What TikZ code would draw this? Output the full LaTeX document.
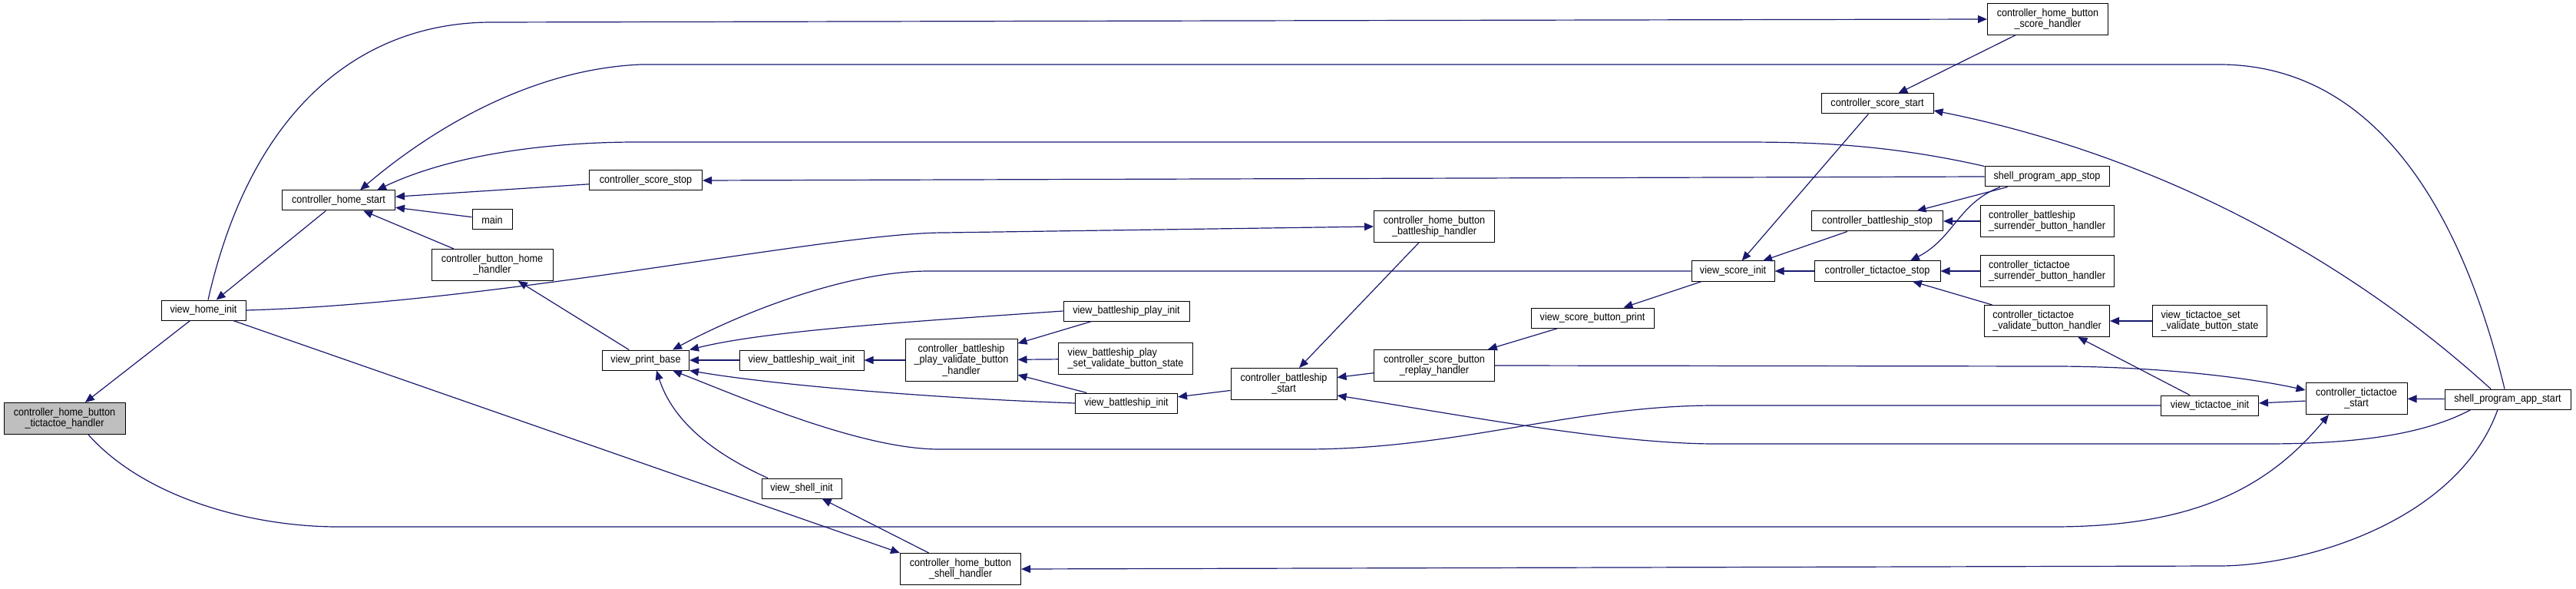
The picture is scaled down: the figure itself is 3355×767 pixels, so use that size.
\documentclass[tikz,border=0pt]{standalone}
\usepackage{fontspec}
\newfontfamily\dxfont[FakeStretch=0.9]{Liberation Sans}
\usetikzlibrary{arrows.meta}
\definecolor{edgeblue}{HTML}{191970}
\definecolor{rootgray}{HTML}{BFBFBF}
\tikzset{
  fn/.style={draw=black, line width=1pt, fill=white, font=\dxfont\fontsize{14}{14.5}\selectfont,
    inner xsep=4pt, inner ysep=5pt, minimum height=26pt, align=center},
  fn2/.style={fn, minimum height=41pt},
  fn3/.style={fn, minimum height=55pt},
  call/.style={draw=edgeblue, line width=1.2pt, -{Triangle[length=12pt,width=10pt]}}
}
\begin{document}
\begin{tikzpicture}[x=1pt, y=-1pt]
  \useasboundingbox (0,0) rectangle (3355,767);
  \node[fn2, fill=rootgray, minimum width=158] (ttth) at (84,545) {controller\_home\_button\\\_tictactoe\_handler};
  \node[fn, minimum width=110] (vhome) at (265,404) {view\_home\_init};
  \node[fn, minimum width=147] (chome) at (441,261) {controller\_home\_start};
  \node[fn2, minimum width=158] (cbhome) at (641,345) {controller\_button\_home\\\_handler};
  \node[fn, minimum width=52] (mainf) at (641,286) {main};
  \node[fn, minimum width=147] (csstop) at (841,235) {controller\_score\_stop};
  \node[fn, minimum width=113] (vpb) at (841,469) {view\_print\_base};
  \node[fn, minimum width=162] (vbwait) at (1044,469) {view\_battleship\_wait\_init};
  \node[fn3, minimum width=146] (cbpv) at (1252,469) {controller\_battleship\\\_play\_validate\_button\\\_handler};
  \node[fn, minimum width=164] (vbplay) at (1467,405) {view\_battleship\_play\_init};
  \node[fn2, minimum width=175, align=left] (vbpset) at (1466,467) {view\_battleship\_play\\\_set\_validate\_button\_state};
  \node[fn, minimum width=133] (vbinit) at (1467,525) {view\_battleship\_init};
  \node[fn, minimum width=104] (vshell) at (1044,636) {view\_shell\_init};
  \node[fn2, minimum width=157] (hbshell) at (1251,741) {controller\_home\_button\\\_shell\_handler};
  \node[fn2, minimum width=157] (hbbship) at (1868,295) {controller\_home\_button\\\_battleship\_handler};
  \node[fn2, minimum width=138] (cbstart) at (1672,500) {controller\_battleship\\\_start};
  \node[fn2, minimum width=157] (csreplay) at (1868,476) {controller\_score\_button\\\_replay\_handler};
  \node[fn, minimum width=160] (vsbprint) at (2074,414) {view\_score\_button\_print};
  \node[fn, minimum width=108] (vsinit) at (2257,353) {view\_score\_init};
  \node[fn, minimum width=146] (csstart) at (2445,135) {controller\_score\_start};
  \node[fn2, minimum width=157] (hbscore) at (2667,25) {controller\_home\_button\\\_score\_handler};
  \node[fn, minimum width=162] (spstop) at (2666,230) {shell\_program\_app\_stop};
  \node[fn, minimum width=171] (cbstop) at (2445,288) {controller\_battleship\_stop};
  \node[fn2, minimum width=174, align=left] (cbsurr) at (2666,288) {controller\_battleship\\\_surrender\_button\_handler};
  \node[fn, minimum width=164] (ctstop) at (2445,353) {controller\_tictactoe\_stop};
  \node[fn2, minimum width=174, align=left] (ctsurr) at (2666,353) {controller\_tictactoe\\\_surrender\_button\_handler};
  \node[fn2, minimum width=163, align=left] (ctvbh) at (2666,418) {controller\_tictactoe\\\_validate\_button\_handler};
  \node[fn2, minimum width=149, align=left] (vtset) at (2878,418) {view\_tictactoe\_set\\\_validate\_button\_state};
  \node[fn, minimum width=127] (vtinit) at (2878,528) {view\_tictactoe\_init};
  \node[fn2, minimum width=132] (ctstart) at (3069,519) {controller\_tictactoe\\\_start};
  \node[fn, minimum width=164] (spstart) at (3266,520) {shell\_program\_app\_start};
  \draw[call] (vhome) -- (ttth);
  \draw[call] (chome) -- (vhome);
  \draw[call] ([xshift=6pt]vhome.north) .. controls (330,130) and (480,29) .. (640,29) -- (hbscore.west);
  \draw[call] ([xshift=-4pt]spstart.north) .. controls (3200,250) and (3080,84) .. (2890,84) -- (835,84)
        .. controls (690,90) and (560,170) .. ([xshift=28pt]chome.north);
  \draw[call] (spstop.north west) .. controls (2450,186) and (2350,185) .. (2260,185) -- (830,185)
        .. controls (700,185) and (580,205) .. ([xshift=50pt]chome.north);
  \draw[call] (csstop) -- (chome);
  \draw[call] (spstop.west) -- (csstop.east);
  \draw[call] (mainf) -- (chome);
  \draw[call] (cbhome) -- (chome);
  \draw[call] (vpb) -- (cbhome);
  \draw[call] (vhome.east) .. controls (650,395) and (1080,303) .. (1230,303) -- (hbbship.west);
  \draw[call] (hbbship) -- (cbstart);
  \draw[call] (vhome) -- (hbshell.north west);
  \draw[call] ([xshift=31pt]ttth.south) .. controls (190,650) and (330,686) .. (440,686) -- (2674,686)
        .. controls (2850,686) and (2950,640) .. ([xshift=-36pt]ctstart.south);
  \draw[call] ([xshift=-44pt]vshell.north) .. controls (950,600) and (880,560) .. ([xshift=14pt]vpb.south);
  \draw[call] (hbshell) -- (vshell);
  \draw[call] ([xshift=-13pt]spstart.south) .. controls (3200,680) and (3000,737) .. (2890,737) -- (hbshell.east);
  \draw[call] ([xshift=-48pt]spstart.south) .. controls (3150,570) and (3050,578) .. (2950,578) -- (2234,578)
        .. controls (2100,578) and (1900,540) .. ([yshift=-15pt]cbstart.east);
  \draw[call] (vsinit.west) -- (1210,353) .. controls (1100,353) and (960,410) .. ([xshift=35pt]vpb.north);
  \draw[call] (vbplay.west) .. controls (1200,418) and (1000,430) .. (vpb.north east);
  \draw[call] (vbwait) -- (vpb);
  \draw[call] (vbinit.west) .. controls (1200,518) and (1000,500) .. (vpb.south east);
  \draw[call] (vtinit.west) -- (2234,528) .. controls (2050,528) and (1900,585) .. (1700,585) -- (1223,585)
        .. controls (1120,585) and (960,515) .. ([xshift=35pt]vpb.south);
  \draw[call] (cbpv) -- (vbwait);
  \draw[call] (vbplay) -- (cbpv);
  \draw[call] (vbpset) -- (cbpv);
  \draw[call] (vbinit) -- (cbpv);
  \draw[call] (cbstart) -- (vbinit);
  \draw[call] (csreplay) -- (cbstart);
  \draw[call] (vsbprint) -- (csreplay);
  \draw[call] (vsinit) -- (vsbprint);
  \draw[call] (csreplay.east) -- (2674,477) .. controls (2800,477) and (2920,490) .. ([yshift=11pt]ctstart.west);
  \draw[call] (hbscore) -- (csstart);
  \draw[call] ([xshift=-22pt]spstart.north) .. controls (3050,330) and (2800,200) .. ([yshift=-9pt]csstart.east);
  \draw[call] (csstart) -- (vsinit);
  \draw[call] (cbstop) -- (vsinit);
  \draw[call] (ctstop) -- (vsinit);
  \draw[call] (spstop) -- (cbstop);
  \draw[call] ([xshift=-61pt]spstop.south) .. controls (2550,265) and (2545,310) .. ([xshift=43pt]ctstop.north);
  \draw[call] (cbsurr) -- (cbstop);
  \draw[call] (ctsurr) -- (ctstop);
  \draw[call] (ctvbh) -- (ctstop);
  \draw[call] (vtset) -- (ctvbh);
  \draw[call] (vtinit) -- (ctvbh);
  \draw[call] (ctstart) -- (vtinit);
  \draw[call] (spstart) -- (ctstart);
\end{tikzpicture}
\end{document}
